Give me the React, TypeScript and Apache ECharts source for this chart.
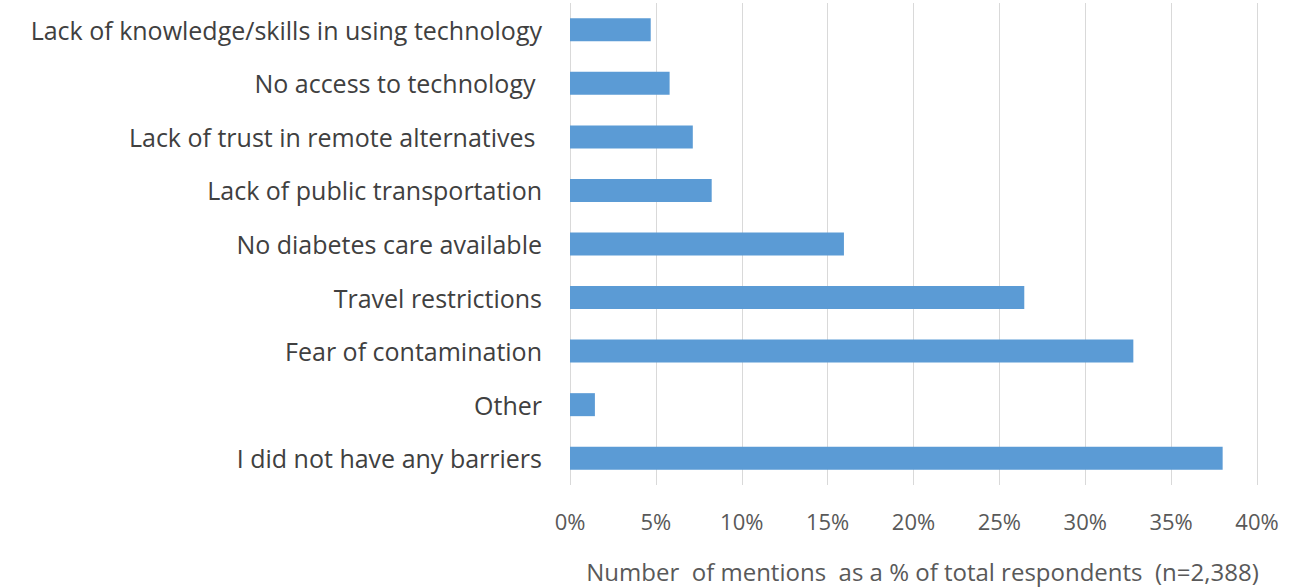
import React, { useEffect, useRef } from "react";
import * as echarts from "echarts";

const categories = [
  "Lack of knowledge/skills in using technology",
  "No access to technology ",
  "Lack of trust in remote alternatives ",
  "Lack of public transportation",
  "No diabetes care available",
  "Travel restrictions",
  "Fear of contamination",
  "Other",
  "I did not have any barriers",
];
const values = [4.7, 5.8, 7.15, 8.25, 15.95, 26.45, 32.8, 1.45, 38.0];
const xTicks = { min: 0, max: 40, interval: 5 };
const axisTitle = "Number  of mentions  as a % of total respondents  (n=2,388)";

const FONT = "'Open Sans', 'Noto Sans', sans-serif";

export default function App() {
  const ref = useRef<HTMLDivElement>(null);
  useEffect(() => {
    if (!ref.current) return;
    const chart = echarts.init(ref.current, null, { renderer: "svg" });
    chart.setOption({
      animation: false,
      backgroundColor: "#ffffff",
      grid: { left: 570, right: 35, top: 3, bottom: 102, containLabel: false },
      xAxis: {
        type: "value",
        min: xTicks.min,
        max: xTicks.max,
        interval: xTicks.interval,
        axisLine: { show: false },
        axisTick: { show: false },
        axisLabel: {
          formatter: (v: number) => `${v}%`,
          color: "#595959",
          fontSize: 22,
          fontFamily: FONT,
          margin: 25,
        },
        splitLine: { show: true, lineStyle: { color: "#d9d9d9", width: 1 } },
        name: axisTitle,
        nameLocation: "middle",
        nameGap: 74,
        nameTextStyle: {
          color: "#595959",
          fontSize: 24,
          fontFamily: FONT,
          padding: [0, 0, 0, 18],
        },
      },
      yAxis: {
        type: "category",
        data: categories,
        inverse: true,
        axisLine: { show: false },
        axisTick: { show: false },
        axisLabel: {
          color: "#404040",
          fontSize: 25,
          fontFamily: FONT,
          margin: 28,
        },
      },
      series: [
        {
          type: "bar",
          data: values,
          barWidth: 23,
          itemStyle: { color: "#5b9bd5" },
        },
      ],
    });
    return () => chart.dispose();
  }, []);
  return (
    <div
      ref={ref}
      style={{ position: "fixed", left: 0, top: 0, width: 1292, height: 588 }}
    />
  );
}
